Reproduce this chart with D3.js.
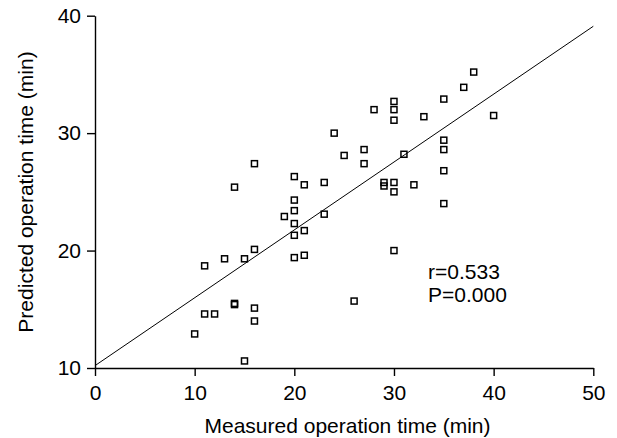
<!doctype html>
<html lang="en">
<head>
  <meta charset="utf-8">
  <title>Predicted vs measured operation time</title>
  <style>
    body { margin: 0; background: #fff; }
    text { font-family: "Liberation Sans", Arial, sans-serif; }
  </style>
</head>
<body>
  <svg id="mysvg"></svg>
<script src="https://d3js.org/d3.v7.min.js"></script>
<script>
var width = 617;
var height = 438;

// measured (x) and predicted (y) operation time, min
var measured = [24, 25, 16, 20, 21, 23, 14, 38, 37, 35, 30, 30, 28, 30, 33, 40,
  27, 27, 31, 35, 35, 35, 29, 29, 30, 30, 32, 35, 30, 26,
  20, 20, 19, 20, 23, 20, 21, 16, 13, 15, 11, 20, 21,
  14, 14, 16, 16, 11, 12, 10, 15];
var predicted = [30.0, 28.1, 27.4, 26.3, 25.6, 25.8, 25.4, 35.2, 33.9, 32.9, 32.7, 32.0, 32.0, 31.1, 31.4, 31.5,
  28.6, 27.4, 28.2, 29.4, 28.6, 26.8, 25.8, 25.5, 25.8, 25.0, 25.6, 24.0, 20.0, 15.7,
  24.3, 23.4, 22.9, 22.3, 23.1, 21.3, 21.7, 20.1, 19.3, 19.3, 18.7, 19.4, 19.6,
  15.5, 15.4, 15.1, 14.0, 14.6, 14.6, 12.9, 10.6];

// fitted line end points
var fitX = [0, 50];
var fitY = [10.2, 39.1];

var xTicks = [0, 10, 20, 30, 40, 50];
var yTicks = [10, 20, 30, 40];
var statLines = ["r=0.533", "P=0.000"];

var svg = d3.select("#mysvg")
  .attr("width", width)
  .attr("height", height);

var x = d3.scaleLinear().domain([0, 50]).range([95, 593.3]);
var y = d3.scaleLinear().domain([10, 40]).range([368, 15.7]);

var fontSize = 21;

var xAxis = svg.append("g")
  .attr("transform", "translate(0," + y(10) + ")")
  .call(d3.axisBottom(x).tickValues(xTicks).tickSize(8).tickSizeOuter(0).tickPadding(9));
var yAxis = svg.append("g")
  .attr("transform", "translate(" + x(0) + ",0)")
  .call(d3.axisLeft(y).tickValues(yTicks).tickSize(8).tickSizeOuter(0).tickPadding(6));

[xAxis, yAxis].forEach(function(g) {
  g.selectAll("path, line").attr("stroke", "#000").attr("stroke-width", 1.4);
  g.selectAll("text")
    .attr("fill", "#000")
    .style("font-size", fontSize + "px")
    .style("font-family", "'Liberation Sans', Arial, sans-serif");
});

// regression line
var line = d3.line()
  .x(function(d) { return x(d[0]); })
  .y(function(d) { return y(d[1]); });
svg.append("path")
  .datum(d3.zip(fitX, fitY))
  .attr("d", line)
  .style("fill", "none")
  .style("stroke", "#000")
  .style("stroke-width", 1);

// points
var s = 6;
svg.selectAll("rect.pt").data(d3.zip(measured, predicted))
  .enter()
  .append("rect")
  .attr("class", "pt")
  .attr("x", function(d) { return x(d[0]) - s / 2; })
  .attr("y", function(d) { return y(d[1]) - s / 2; })
  .attr("width", s)
  .attr("height", s)
  .style("fill", "none")
  .style("stroke", "#000")
  .style("stroke-width", 1.5);

// stats text
svg.selectAll("text.stat").data(statLines)
  .enter()
  .append("text")
  .attr("class", "stat")
  .attr("x", 428)
  .attr("y", function(d, i) { return 279 + i * 22.7; })
  .style("font-size", fontSize + "px")
  .text(function(d) { return d; });

// axis titles
svg.append("text")
  .attr("x", 347.5)
  .attr("y", 433)
  .attr("text-anchor", "middle")
  .style("font-size", fontSize + "px")
  .text("Measured operation time (min)");

svg.append("text")
  .attr("transform", "translate(33,192) rotate(-90)")
  .attr("text-anchor", "middle")
  .style("font-size", fontSize + "px")
  .text("Predicted operation time (min)");
</script>
</body>
</html>
